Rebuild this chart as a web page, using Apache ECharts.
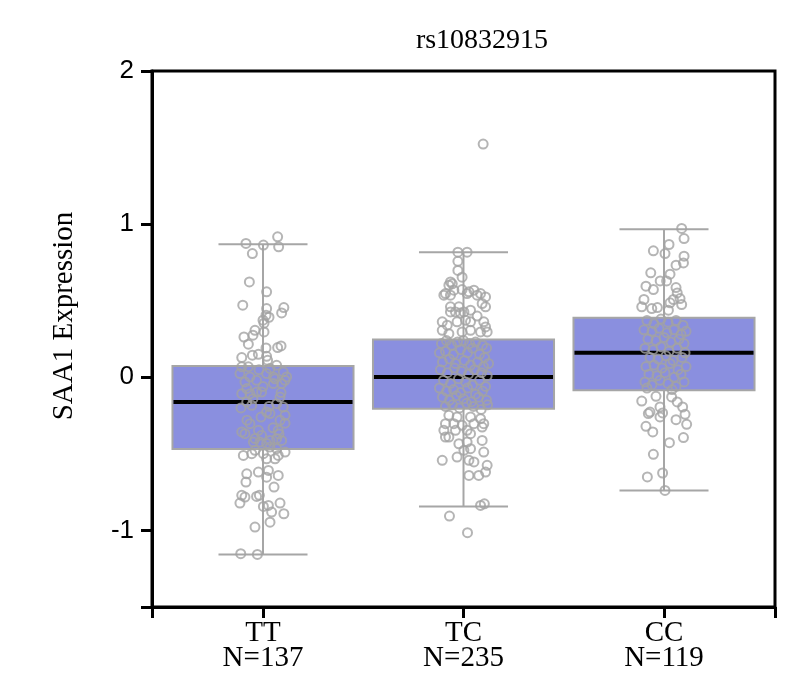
<!DOCTYPE html>
<html>
<head>
<meta charset="utf-8">
<script src="https://cdn.jsdelivr.net/npm/echarts@6/dist/echarts.min.js"></script>
<style>html,body{margin:0;padding:0;background:#fff}#c{width:800px;height:684px}</style>
</head>
<body>
<div id="c"></div>
<script>
// ---- data ----
const categories = ['TT', 'TC', 'CC'];
const counts = [137, 235, 119];
// [min, Q1, median, Q3, max]
const boxTT = [-1.157, -0.468, -0.161, 0.074, 0.869];
const boxTC = [-0.843, -0.205, 0.002, 0.246, 0.817];
const boxCC = [-0.739, -0.085, 0.161, 0.388, 0.967];
const yTickValues = [-1.5, -1, 0, 1, 2];
const yLabelValues = [-1, 0, 1, 2];

// jittered observations: [horizontal jitter (category units), expression]
const ptsTT = [
[-0.085,0.874],[0.002,0.863],[0.073,0.917],[0.078,0.852],[-0.053,0.808],[-0.068,0.623],[0.018,0.558],[-0.101,0.471],
[0.018,0.449],[0.104,0.455],[0.093,0.42],[0.015,0.405],[0.030,0.392],[0.000,0.373],[0.005,0.353],[-0.040,0.307],
[-0.050,0.275],[-0.095,0.263],[0.005,0.296],[-0.073,0.216],[0.073,0.194],[0.090,0.205],[0.015,0.192],[-0.053,0.144],
[-0.023,0.150],[0.018,0.137],[-0.106,0.129],[0.023,0.111],[0.068,0.078],
[-0.106,0.068],[-0.073,0.068],[-0.115,0.024],[-0.065,0.002],[0.035,0.057],[0.018,0.024],[0.052,0.002],[0.101,0.035],
[0.118,0.002],[-0.032,-0.020],[0.052,-0.041],[0.093,-0.041],[0.110,-0.020],[-0.081,-0.074],[-0.065,-0.107],[-0.106,-0.107],
[-0.032,-0.096],[-0.007,-0.096],[0.085,-0.129],[-0.081,-0.161],[-0.056,-0.183],[0.068,-0.172],[0.101,-0.194],[0.018,-0.227],
[0.035,-0.237],[0.110,-0.248],[0.085,-0.281],[-0.065,-0.303],[-0.106,-0.357],[-0.090,-0.368],[-0.023,-0.346],[-0.007,-0.379],
[0.076,-0.346],[0.068,-0.401],[0.035,-0.412],[0.093,-0.412],[-0.048,-0.423],[-0.015,-0.423],[0.018,-0.433],[0.035,-0.455],
[0.068,-0.466],[0.110,-0.488],[-0.040,-0.477],[-0.056,-0.499],[0.002,-0.499],[-0.098,-0.510],[0.018,-0.532],[0.060,-0.532],
[0.076,-0.510],[-0.081,-0.630],[-0.023,-0.619],[0.027,-0.608],[0.076,-0.641],[-0.085,-0.684],[0.018,-0.652],[0.055,-0.717],
[-0.106,-0.771],[-0.090,-0.782],[-0.115,-0.821],[-0.032,-0.778],[-0.018,-0.771],[0.002,-0.843],[0.027,-0.837],[0.085,-0.821],
[0.043,-0.880],[0.104,-0.891],[0.035,-0.946],[-0.040,-0.978],[-0.111,-1.152],[-0.028,-1.157],
[-0.090,-0.03],[-0.020,0.05],[0.060,-0.01],[-0.050,-0.14],[0.030,-0.19],[0.090,-0.10],[-0.010,-0.26],[-0.080,-0.28],
[0.050,-0.33],[-0.040,-0.40],[0.080,-0.37],[0.000,-0.06],[0.110,-0.30],[-0.110,-0.20]
];
const ptsTC = [
[0.098,1.523],[-0.028,0.817],[0.018,0.817],[-0.028,0.757],[-0.028,0.698],[-0.007,0.654],[-0.065,0.623],[-0.073,0.601],
[-0.090,0.547],[-0.048,0.569],[-0.007,0.573],[0.027,0.558],[0.052,0.569],[0.085,0.547],[0.110,0.525],[-0.098,0.536],
[-0.065,0.536],[0.018,0.547],[0.068,0.536],[0.093,0.481],[0.110,0.460],[-0.065,0.460],[-0.023,0.460],[0.002,0.427],
[0.035,0.438],[-0.065,0.427],[-0.040,0.427],[-0.106,0.362],[-0.032,0.362],[0.010,0.373],[0.035,0.362],[0.101,0.362],
[-0.106,0.307],[-0.073,0.285],[-0.007,0.296],[0.035,0.307],[0.085,0.296],[0.118,0.296],[0.110,0.329],
[-0.056,0.61],[-0.015,0.42],[0.068,0.40],[-0.081,0.34],
[-0.110,0.22],[-0.085,0.24],[-0.060,0.21],[-0.030,0.23],[0.000,0.24],[0.030,0.22],[0.060,0.23],[0.095,0.21],[0.115,0.19],
[-0.120,0.16],[-0.090,0.17],[-0.050,0.15],[-0.015,0.18],[0.020,0.16],[0.045,0.19],[0.080,0.15],[0.105,0.13],
[-0.105,0.10],[-0.070,0.12],[-0.040,0.09],[0.005,0.11],[0.035,0.08],[0.070,0.10],[0.100,0.07],[0.125,0.09],
[-0.115,0.05],[-0.080,0.03],[-0.045,0.06],[-0.010,0.04],[0.025,0.02],[0.055,0.05],[0.090,0.03],[0.118,0.01],
[-0.100,-0.02],[-0.065,-0.04],[-0.025,-0.01],[0.010,-0.03],[0.045,-0.05],[0.080,-0.02],[0.110,-0.06],
[-0.120,-0.07],[-0.085,-0.09],[-0.050,-0.08],[-0.015,-0.10],[0.020,-0.07],[0.060,-0.11],[0.095,-0.09],
[-0.105,-0.13],[-0.070,-0.15],[-0.035,-0.12],[0.000,-0.14],[0.040,-0.16],[0.075,-0.13],[0.115,-0.15],
[-0.090,-0.19],[-0.055,-0.18],[-0.020,-0.20],[0.015,-0.17],[0.050,-0.19],[0.088,-0.21],[0.120,-0.18],
[-0.073,-0.248],[-0.032,-0.259],[0.035,-0.259],[0.085,-0.270],[-0.090,-0.303],[-0.048,-0.303],[-0.007,-0.314],[0.052,-0.303],
[0.101,-0.303],[-0.098,-0.346],[-0.040,-0.346],[0.018,-0.346],[0.093,-0.325],[-0.090,-0.390],[-0.073,-0.390],[0.035,-0.368],
[-0.023,-0.434],[0.018,-0.423],[0.093,-0.412],[0.035,-0.466],[0.002,-0.477],[0.101,-0.488],[-0.106,-0.542],[-0.032,-0.521],
[0.027,-0.542],[0.052,-0.553],[0.118,-0.575],[0.027,-0.641],[0.076,-0.641],[0.110,-0.619],[0.085,-0.837],[0.104,-0.826],
[-0.070,-0.906],[0.020,-1.015]
];
const ptsCC = [
[0.088,0.972],[0.100,0.906],[0.025,0.867],[-0.053,0.826],[0.005,0.808],[0.100,0.791],[0.097,0.747],[0.060,0.732],
[-0.066,0.682],[0.030,0.673],[-0.019,0.629],[0.013,0.629],[-0.090,0.595],[-0.053,0.573],[0.060,0.586],[0.066,0.551],
[-0.100,0.508],[-0.111,0.460],[-0.061,0.449],[-0.033,0.455],[0.030,0.486],[0.047,0.508],[0.080,0.514],[0.088,0.475],
[0.022,0.438],
[-0.085,0.37],[-0.050,0.35],[-0.015,0.38],[0.020,0.36],[0.060,0.37],[0.095,0.34],
[-0.100,0.31],[-0.060,0.30],[-0.025,0.32],[0.015,0.29],[0.050,0.31],[0.085,0.28],[0.110,0.30],
[-0.080,0.25],[-0.040,0.24],[0.000,0.26],[0.035,0.23],[0.075,0.25],[0.100,0.22],
[-0.095,0.19],[-0.055,0.18],[-0.015,0.20],[0.025,0.17],[0.065,0.19],[0.105,0.16],
[-0.070,0.13],[-0.030,0.12],[0.010,0.14],[0.045,0.11],[0.090,0.13],
[-0.090,0.07],[-0.050,0.08],[-0.010,0.06],[0.030,0.09],[0.070,0.05],[0.110,0.07],
[-0.075,0.02],[-0.035,0.01],[0.005,0.03],[0.050,0.00],[0.085,0.02],
[-0.095,-0.03],[-0.060,-0.05],[-0.020,-0.02],[0.020,-0.04],[0.060,-0.06],[0.100,-0.03],[-0.085,-0.07],[0.040,-0.08],
[-0.111,-0.155],[-0.040,-0.124],[0.038,-0.128],[0.066,-0.161],[0.093,-0.194],[-0.070,-0.227],[-0.078,-0.237],[-0.020,-0.194],
[-0.007,-0.233],[-0.020,-0.259],[0.105,-0.242],[0.113,-0.307],[0.060,-0.277],[-0.090,-0.320],[-0.056,-0.357],[0.097,-0.394],
[0.027,-0.427],[-0.053,-0.503],[-0.083,-0.651],[-0.007,-0.625],[0.005,-0.739]
];

// ---- build ----
const boxes = [boxTT, boxTC, boxCC];
const pointGroups = [ptsTT, ptsTC, ptsCC];
const boxData = boxes.map((b, i) => [i].concat(b));
const scatterData = [];
pointGroups.forEach((g, i) => g.forEach(p => scatterData.push([i + p[0], p[1]])));

const X_MIN = -0.5536, X_MAX = 2.5536;
const BOX_W = 0.903, CAP_W = 0.444;
const GRAY = '#a6a6a6';

function renderBox(params, api) {
  const i = api.value(0);
  const pMin = api.coord([i, api.value(1)]);
  const pQ1 = api.coord([i, api.value(2)]);
  const pMed = api.coord([i, api.value(3)]);
  const pQ3 = api.coord([i, api.value(4)]);
  const pMax = api.coord([i, api.value(5)]);
  const bw = api.size([BOX_W, 0])[0];
  const cw = api.size([CAP_W, 0])[0];
  const cx = pMed[0];
  const line = (x1, y1, x2, y2, color, w) => ({
    type: 'line', shape: { x1, y1, x2, y2 }, style: { stroke: color, lineWidth: w }
  });
  return {
    type: 'group',
    children: [
      line(cx, pMax[1], cx, pQ3[1], GRAY, 2),
      line(cx, pQ1[1], cx, pMin[1], GRAY, 2),
      line(cx - cw / 2, pMax[1], cx + cw / 2, pMax[1], GRAY, 2),
      line(cx - cw / 2, pMin[1], cx + cw / 2, pMin[1], GRAY, 2),
      { type: 'rect', shape: { x: cx - bw / 2, y: pQ3[1], width: bw, height: pQ1[1] - pQ3[1] },
        style: { fill: '#8a8fdf', stroke: GRAY, lineWidth: 2 } },
      line(cx - bw / 2 + 1, pMed[1], cx + bw / 2 - 1, pMed[1], '#000', 4)
    ]
  };
}

const chart = echarts.init(document.getElementById('c'), null, { renderer: 'canvas' });
chart.setOption({
  animation: false,
  backgroundColor: '#fff',
  title: {
    text: 'rs10832915', left: 477, top: 22, textAlign: 'center',
    textStyle: { fontFamily: 'Liberation Serif', fontSize: 28, fontWeight: 'normal', color: '#000' }
  },
  grid: {
    left: 152, right: 25, top: 71, bottom: 77,
    show: true, borderColor: '#000', borderWidth: 3,
    containLabel: false, outerBoundsMode: 'none'
  },
  xAxis: {
    type: 'value', min: X_MIN, max: X_MAX,
    splitLine: { show: false },
    axisLine: { show: true, onZero: false, lineStyle: { color: '#000', width: 3 } },
    axisTick: { show: true, length: 11, lineStyle: { color: '#000', width: 3 },
      customValues: [X_MIN, 0, 1, 2, X_MAX] },
    axisLabel: {
      customValues: [0, 1, 2], margin: 14,
      formatter: v => categories[Math.round(v)] + '\nN=' + counts[Math.round(v)],
      fontFamily: 'Liberation Serif', fontSize: 29, lineHeight: 25, color: '#000'
    }
  },
  yAxis: {
    type: 'value', min: -1.5, max: 2,
    name: 'SAA1 Expression', nameLocation: 'middle', nameGap: 73, nameRotate: 90,
    nameTextStyle: { fontFamily: 'Liberation Serif', fontSize: 29, color: '#000', padding: [0, 0, 0, 46] },
    splitLine: { show: false },
    axisLine: { show: true, onZero: false, lineStyle: { color: '#000', width: 3 } },
    axisTick: { show: true, length: 11, lineStyle: { color: '#000', width: 3 }, customValues: yTickValues },
    axisLabel: { customValues: yLabelValues, margin: 18, fontFamily: 'Liberation Sans', fontSize: 26, color: '#000' }
  },
  series: [
    {
      type: 'custom', renderItem: renderBox, data: boxData, z: 2, clip: false,
      encode: { x: 0, y: [1, 2, 3, 4, 5] }
    },
    {
      type: 'scatter', data: scatterData, z: 3, symbol: 'circle', symbolSize: 9,
      itemStyle: { color: 'rgba(0,0,0,0)', borderColor: '#a3a3a3', borderWidth: 2 }
    }
  ]
});
</script>
</body>
</html>
